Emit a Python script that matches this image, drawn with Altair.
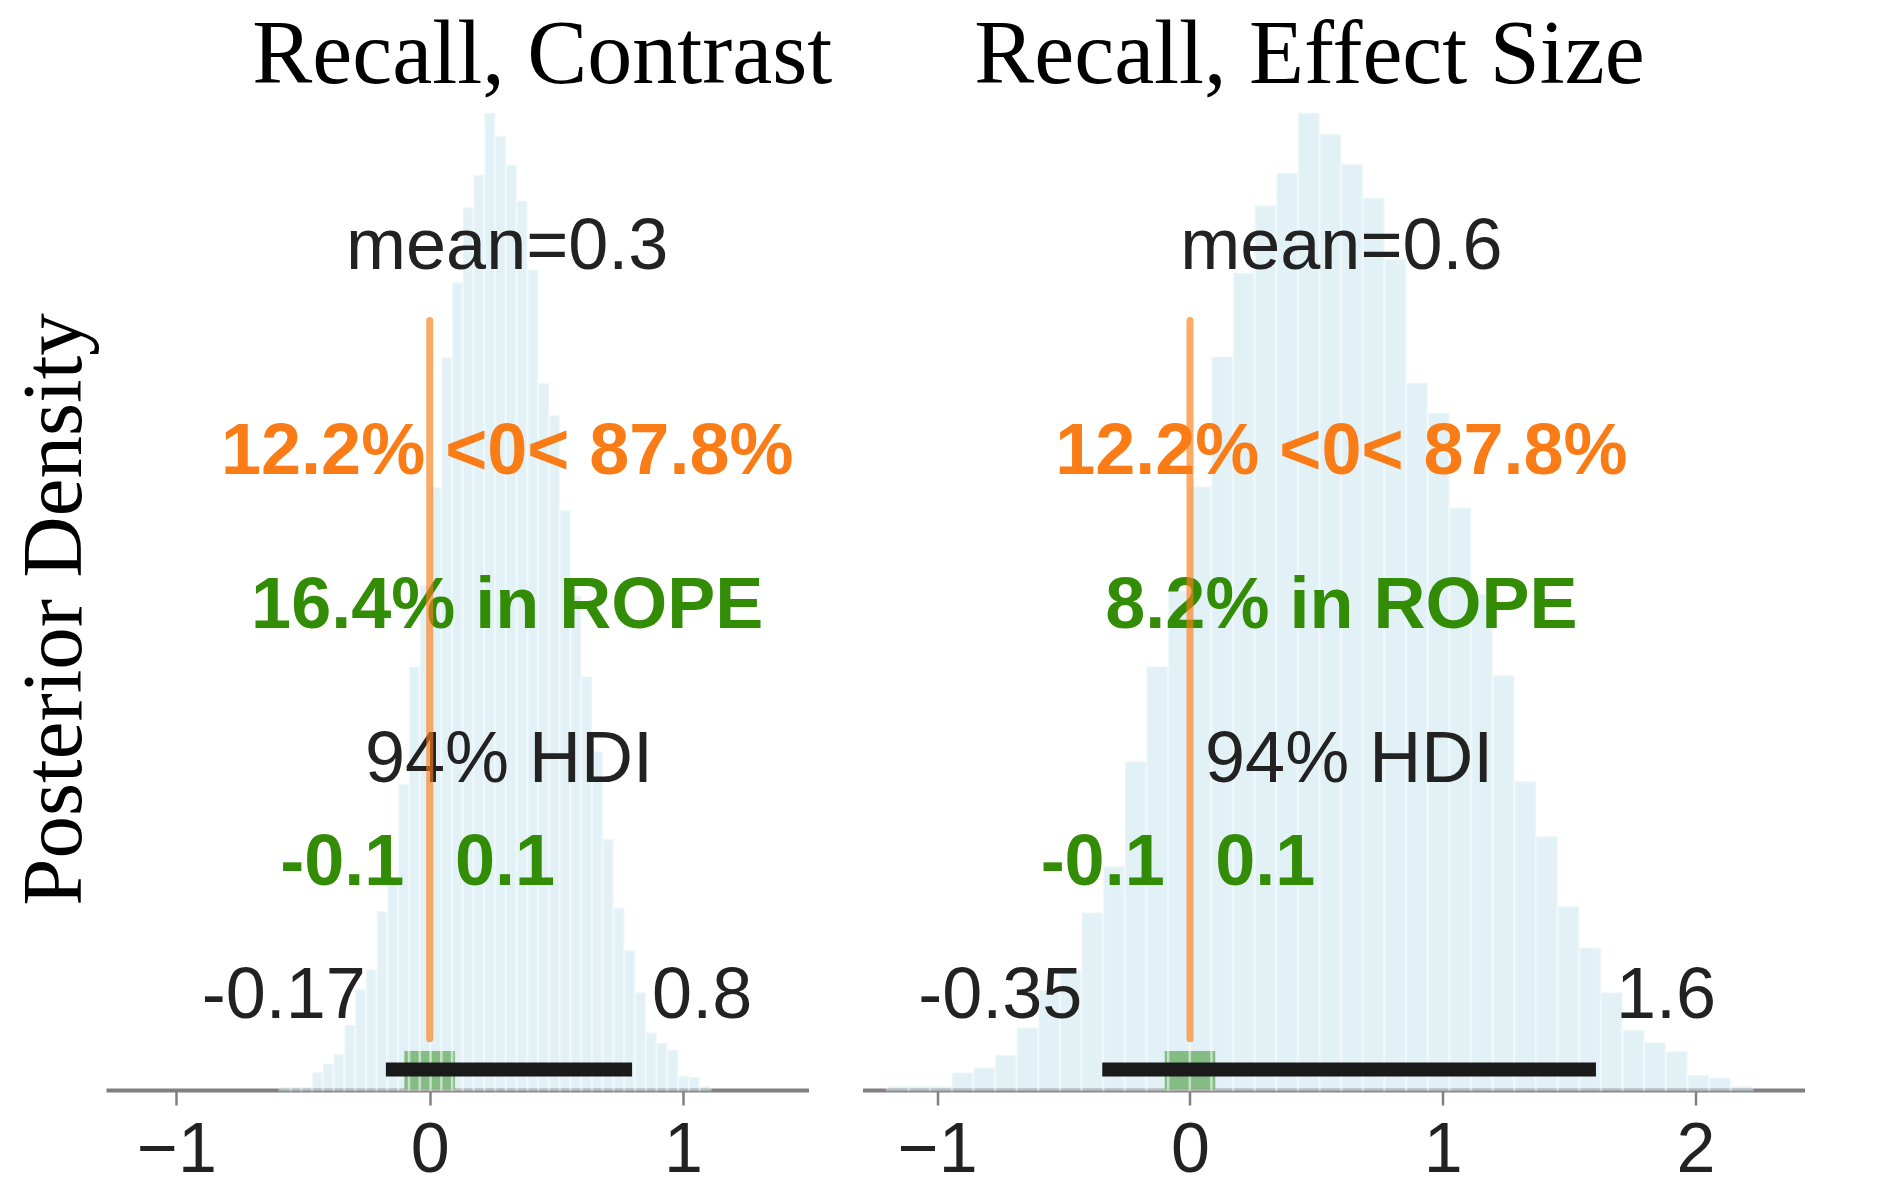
import altair as alt
import pandas as pd

# ---------------- values ----------------
# histogram of posterior samples (density per bin), 40 equal bins per panel
contrast_bin_start = -0.5915
contrast_bin_width = 0.0425
contrast_density = [0.005, 0.005, 0.005, 0.029, 0.042, 0.058, 0.105, 0.163, 0.195, 0.289,
                    0.337, 0.495, 0.684, 0.816, 0.974, 1.184, 1.305, 1.426, 1.479, 1.579,
                    1.542, 1.495, 1.437, 1.326, 1.142, 1.090, 0.937, 0.800, 0.668, 0.547,
                    0.405, 0.295, 0.226, 0.158, 0.093, 0.076, 0.065, 0.023, 0.021, 0.006]

effect_bin_start = -1.199
effect_bin_width = 0.0856
effect_density = [0.003, 0.003, 0.003, 0.014, 0.018, 0.028, 0.050, 0.080, 0.096, 0.142,
                  0.179, 0.263, 0.339, 0.400, 0.483, 0.587, 0.654, 0.708, 0.734, 0.782,
                  0.765, 0.741, 0.714, 0.665, 0.566, 0.542, 0.466, 0.397, 0.332, 0.247,
                  0.203, 0.147, 0.114, 0.078, 0.048, 0.038, 0.031, 0.012, 0.010, 0.003]

panel_titles = ["Recall, Contrast", "Recall, Effect Size"]
means = [0.306, 0.599]
mean_labels = ["mean=0.3", "mean=0.6"]
ref_value = 0.0
ref_labels = ["12.2% <0< 87.8%", "12.2% <0< 87.8%"]
rope = [-0.1, 0.1]
rope_value_labels = ["-0.1", "0.1"]
rope_labels = ["16.4% in ROPE", "8.2% in ROPE"]
hdi_low = [-0.173, -0.347]
hdi_high = [0.799, 1.606]
hdi_low_labels = ["-0.17", "-0.35"]
hdi_high_labels = ["0.8", "1.6"]
hdi_label = "94% HDI"
x_ticks = [[-1, 0, 1], [-1, 0, 1, 2]]
y_label = "Posterior Density"

# ---------------- style / layout ----------------
SANS = "Liberation Sans"
SERIF = "Liberation Serif"
ORANGE = "#fa7c17"
GREEN = "#328c06"
TEXT = "#222222"
GRAY = "#808080"
X_DOMAINS = [[-1.278, 1.4955], [-1.2955, 2.431]]
WIDTHS = [702.5, 942]
HEIGHT = 1026
TITLE_DX = [85, -24]
TITLE_DY = 92
# vertical placement of annotations, as fractions of the y-limit
F_MEAN, F_REF, F_ROPE, F_HDI_TXT, F_ROPE_VAL, F_HDI_VAL, F_HDI_BAR = 0.8, 0.6, 0.45, 0.3, 0.2, 0.07, 0.02
F_REF_LO, F_REF_HI, F_ROPE_BAR = 0.05, 0.75, 0.038


def panel(i, bin_start, bin_width, density):
    ylim = 1.05 * max(density)
    xscale = alt.Scale(domain=X_DOMAINS[i], nice=False, zero=False)
    yscale = alt.Scale(domain=[0, ylim], nice=False, zero=True)
    xaxis = alt.Axis(values=x_ticks[i], format="d", title=None, grid=False,
                     labelFont=SANS, labelFontSize=70, labelColor=TEXT, labelPadding=11,
                     labelFlush=False, labelOverlap=False,
                     tickSize=15, tickWidth=2.5, tickColor=GRAY,
                     domainColor=GRAY, domainWidth=4)
    if i == 0:
        yaxis = alt.Axis(title=y_label, labels=False, ticks=False, domain=False, grid=False,
                         titleFont=SERIF, titleFontSize=85, titleFontWeight="normal",
                         titleColor="black", titleAngle=270, titleX=-26, titleY=545,
                         titleAlign="center", titleBaseline="alphabetic", minExtent=0)
    else:
        yaxis = None

    def X(f):
        return alt.X(f, type="quantitative", scale=xscale, axis=xaxis)

    def Y(f):
        return alt.Y(f, type="quantitative", scale=yscale, axis=yaxis)

    hist = pd.DataFrame({
        "start": [bin_start + k * bin_width for k in range(len(density))],
        "end": [bin_start + (k + 1) * bin_width for k in range(len(density))],
        "density": density,
        "base": [0.0] * len(density),
    })
    bars = alt.Chart(hist).mark_rect(
        fill="#add8e6", fillOpacity=0.35, stroke="white", strokeOpacity=0.35, strokeWidth=2.5
    ).encode(x=X("start"), x2="end", y=Y("density"), y2="base")

    rope_df = pd.DataFrame({"lo": [rope[0]], "hi": [rope[1]],
                            "top": [F_ROPE_BAR * ylim], "bot": [0.0]})
    rope_bar = alt.Chart(rope_df).mark_rect(color=GREEN, opacity=0.7).encode(
        x=X("lo"), x2="hi", y=Y("top"), y2="bot")

    hdi_df = pd.DataFrame({"lo": [hdi_low[i]], "hi": [hdi_high[i]], "y": [F_HDI_BAR * ylim]})
    hdi_bar = alt.Chart(hdi_df).mark_rule(color="#1a1a1a", strokeWidth=14, strokeCap="butt").encode(
        x=X("lo"), x2="hi", y=Y("y"))

    ref_df = pd.DataFrame({"x": [ref_value], "y0": [F_REF_LO * ylim], "y1": [F_REF_HI * ylim]})
    ref_line = alt.Chart(ref_df).mark_rule(color=ORANGE, opacity=0.65, strokeWidth=7,
                                           strokeCap="round").encode(
        x=X("x"), y=Y("y0"), y2="y1")

    def txt(x, frac, text, color, bold=False, align="center", dx=0):
        df = pd.DataFrame({"x": [x], "y": [frac * ylim], "t": [text]})
        return alt.Chart(df).mark_text(
            font=SANS, fontSize=72, fontWeight="bold" if bold else "normal",
            color=color, align=align, baseline="alphabetic", dx=dx
        ).encode(x=X("x"), y=Y("y"), text="t:N")

    texts = [
        txt(means[i], F_MEAN, mean_labels[i], TEXT),
        txt(means[i], F_REF, ref_labels[i], ORANGE, bold=True),
        txt(means[i], F_ROPE, rope_labels[i], GREEN, bold=True),
        txt((hdi_low[i] + hdi_high[i]) / 2, F_HDI_TXT, hdi_label, TEXT),
        txt(rope[0], F_ROPE_VAL, rope_value_labels[0], GREEN, bold=True, align="right"),
        txt(rope[1], F_ROPE_VAL, rope_value_labels[1], GREEN, bold=True, align="left"),
        txt(hdi_low[i], F_HDI_VAL, hdi_low_labels[i], TEXT, align="right", dx=-20),
        txt(hdi_high[i], F_HDI_VAL, hdi_high_labels[i], TEXT, align="left", dx=20),
    ]

    layer = alt.layer(rope_bar, bars, *texts, hdi_bar, ref_line).properties(
        width=WIDTHS[i], height=HEIGHT,
        title=alt.TitleParams(panel_titles[i], font=SERIF, fontSize=90, fontWeight="normal",
                              color="black", anchor="middle", frame="group", offset=-17,
                              baseline="alphabetic", dx=TITLE_DX[i], dy=TITLE_DY),
    )
    return layer


left = panel(0, contrast_bin_start, contrast_bin_width, contrast_density)
right = panel(1, effect_bin_start, effect_bin_width, effect_density)

chart = alt.hconcat(left, right, spacing=53.5, bounds="flush").resolve_scale(
    x="independent", y="independent"
).properties(
    padding={"left": 3, "top": 3, "right": 5, "bottom": 5},
    background="white",
).configure_view(strokeWidth=0)

chart.save("out.html", embed_options={"renderer": "svg", "actions": False})
